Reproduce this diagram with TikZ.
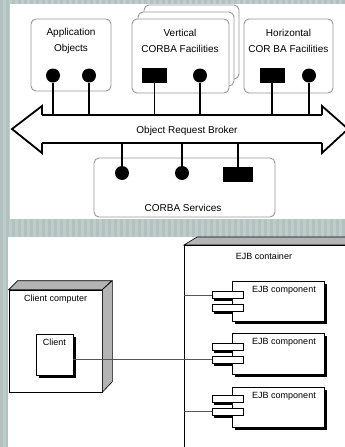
\documentclass[tikz,border=0pt]{standalone}
\usepackage{fontspec}
\setmainfont{Liberation Sans}
\usetikzlibrary{shadows}
\definecolor{bgA}{HTML}{BECCCA}
\definecolor{bgB}{HTML}{B2C2C0}
\definecolor{boxgray}{HTML}{989898}
\definecolor{facegray}{HTML}{B4B4B4}
\definecolor{linegray}{HTML}{555555}
\begin{document}
\begin{tikzpicture}[x=1pt,y=-1pt,
  corbabox/.style={draw=boxgray, line width=0.9pt, rounded corners=5pt, fill=white, inner sep=0},
  pinc/.style={circle, fill=black, inner sep=0, minimum size=14pt},
  pinr/.style={rectangle, fill=black, inner sep=0, minimum width=25pt, minimum height=15pt},
  wire/.style={line width=1.4pt},
  busline/.style={line width=2.6pt},
  head/.style={line width=1.8pt, line join=miter},
  toptxt/.style={font=\fontsize{10}{16}\selectfont, align=center, inner sep=0},
  bottxt/.style={font=\fontsize{9}{11}\selectfont, inner sep=0},
  face/.style={fill=facegray, draw=black, line width=0.6pt},
  umlbox/.style={draw=black, fill=white, line width=0.6pt, inner sep=0},
  shadowed/.style={drop shadow={shadow xshift=3pt, shadow yshift=-3pt, fill=black, opacity=1}},
  comp/.style={umlbox, shadowed, minimum width=92pt, minimum height=40pt},
  port/.style={umlbox, minimum width=31pt, minimum height=7pt},
  conn/.style={draw=linegray, line width=0.6pt}
]
\useasboundingbox (0,0) rectangle (345,447);
\clip (0,0) rectangle (345,447);
% background
\fill[bgA] (0,0) rectangle (345,447);
\foreach \i in {0,6,...,342} { \fill[bgB] (\i,0) rectangle (\i+3,447); }
\fill[white] (10,4) rectangle (345,219);
\fill[white] (8,237) rectangle (345,447);

% ===== CORBA diagram =====
\node[corbabox, minimum width=95pt, minimum height=74pt] (v3) at (191.5,42) {};
\node[corbabox, minimum width=96pt, minimum height=74pt] (v2) at (186,49) {};
\node[corbabox, minimum width=97pt, minimum height=74pt] (vert) at (180.5,56) {};
\node[corbabox, minimum width=80pt, minimum height=72pt] (app) at (71,55) {};
\node[corbabox, minimum width=89pt, minimum height=74pt] (horiz) at (288.5,56) {};
\node[corbabox, minimum width=181pt, minimum height=59pt] (serv) at (184.5,187.5) {};

\node[toptxt] (apptxt) at (71,41) {Application\\Objects};
\node[toptxt] (verttxt) at (180,41) {Vertical\\CORBA Facilities};
\node[toptxt] (hortxt) at (288.5,41) {Horizontal\\COR BA Facilities};
\node[toptxt] (servtxt) at (183,208) {CORBA Services};
\node[toptxt] (orbtxt) at (187,131) {Object Request Broker};

% bus
\coordinate (busTL) at (42,115);
\coordinate (busTR) at (322,115);
\coordinate (busBL) at (42,143);
\coordinate (busBR) at (322,143);
\draw[busline] (busTL) -- (busTR);
\draw[busline] (busBL) -- (busBR);
\draw[head] (busTL) -- (42,106) -- (12,129) -- (42,153) -- (busBL);
\draw[head] (busTR) -- (322,106) -- (348,129) -- (322,153) -- (busBR);

% pins (top)
\node[pinc] (a1) at (53,75.5) {};
\node[pinc] (a2) at (89,75.5) {};
\node[pinr] (v1p) at (154.5,75.5) {};
\node[pinc] (v2p) at (200,75.5) {};
\node[pinr] (h1p) at (272,75.5) {};
\node[pinc] (h2p) at (309,75.5) {};
\foreach \p in {a1,a2,v1p,v2p,h1p,h2p} { \draw[wire] (\p) -- (\p |- busTL); }

% pins (services)
\node[pinc] (s1) at (122,173) {};
\node[pinc] (s2) at (182,173) {};
\node[pinr, minimum width=30pt] (s3) at (238,174.5) {};
\foreach \p in {s1,s2,s3} { \draw[wire] (\p |- busBL) -- (\p); }

% ===== EJB diagram =====
% client computer node
\node[umlbox, minimum width=93pt, minimum height=102pt] (pc) at (55.5,341) {};
\path[face] (pc.north west) -- ++(9,-9) -- ++(94,0) -- (pc.north east) -- cycle;
\path[face] (pc.north east) -- ++(10,-9) -- ++(0,101) -- (pc.south east) -- cycle;
\node[bottxt, anchor=west] (pctxt) at (24,299) {Client computer};

\node[umlbox, shadowed, minimum width=37pt, minimum height=41pt] (client) at (54.5,354.5) {};
\node[bottxt] (clienttxt) at (54.5,342) {Client};

% container
\path[face] (184,245) -- (197,237) -- (360,237) -- (360,245) -- cycle;
\node[umlbox, anchor=north west, minimum width=200pt, minimum height=230pt] (cont) at (184,245) {};
\node[bottxt] (conttxt) at (264,256) {EJB container};

% port shadows (behind the components)
\foreach \yy in {295,307.5,346.5,359.5,398.5,411.5} {
  \fill[black] (213.5,\yy-1) rectangle (245.5,\yy+6);
}
% components
\node[comp] (c1) at (278,301) {};
\node[comp, minimum height=41pt] (c2) at (278,353.5) {};
\node[comp] (c3) at (278,407) {};
\foreach \c in {c1,c2,c3} {
  \node[bottxt] at ([xshift=6pt, yshift=-9.5pt]\c.north) {EJB component};
}
% ports
\node[port] (c1a) at (227.5,295) {};
\node[port] (c1b) at (227.5,307.5) {};
\node[port] (c2a) at (227.5,346.5) {};
\node[port] (c2b) at (227.5,359.5) {};
\node[port] (c3a) at (227.5,398.5) {};
\node[port] (c3b) at (227.5,411.5) {};

% connectors
\draw[conn] (client.east |- c2b) -- (cont.west |- c2b) -- (c2b.west);
\draw[conn] (cont.west |- c1a) -- (c1a.west);
\draw[conn] (cont.west |- c3b) -- (c3b.west);
\end{tikzpicture}
\end{document}
